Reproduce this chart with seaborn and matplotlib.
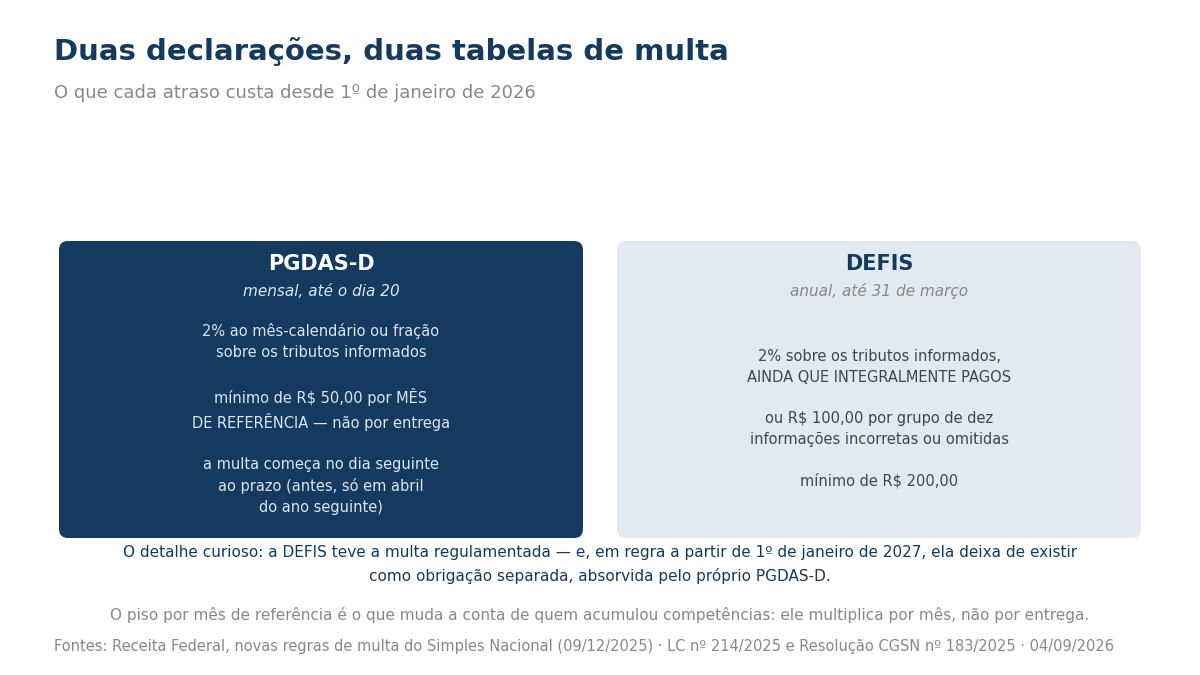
import matplotlib
matplotlib.use("Agg")
import matplotlib.pyplot as plt
from matplotlib.patches import FancyBboxPatch
import seaborn as sns

# card content
card_titles = ["PGDAS-D", "DEFIS"]
card_subtitles = ["mensal, até o dia 20", "anual, até 31 de março"]
card_bodies = [
    "2% ao mês-calendário ou fração\nsobre os tributos informados\n\n"
    "mínimo de R$ 50,00 por MÊS\nDE REFERÊNCIA — não por entrega\n\n"
    "a multa começa no dia seguinte\nao prazo (antes, só em abril\ndo ano seguinte)",
    "2% sobre os tributos informados,\nAINDA QUE INTEGRALMENTE PAGOS\n\n"
    "ou R$ 100,00 por grupo de dez\ninformações incorretas ou omitidas\n\n"
    "mínimo de R$ 200,00",
]

title = "Duas declarações, duas tabelas de multa"
subtitle = "O que cada atraso custa desde 1º de janeiro de 2026"
note = ("O detalhe curioso: a DEFIS teve a multa regulamentada — e, em regra a partir de 1º de janeiro de 2027, "
        "ela deixa de existir\ncomo obrigação separada, absorvida pelo próprio PGDAS-D.")
takeaway = ("O piso por mês de referência é o que muda a conta de quem acumulou competências: "
            "ele multiplica por mês, não por entrega.")
source = ("Fontes: Receita Federal, novas regras de multa do Simples Nacional (09/12/2025) · "
          "LC nº 214/2025 e Resolução CGSN nº 183/2025 · 04/09/2026")

NAVY = "#143a5f"
LIGHT = "#e2e9f1"
GRAY = "#888888"

sns.set_theme(style="white")
plt.rcParams["font.family"] = ["DejaVu Sans"]

fig = plt.figure(figsize=(12, 6.75), dpi=100)
fig.patch.set_facecolor("white")

# cards drawn in a pixel-scaled axes
W, H = 1200, 675
card_w, card_h, gap = 524, 297, 34
left, bottom = 59, 675 - 538
total_w = 2 * card_w + gap
ax = fig.add_axes([left / W, bottom / H, total_w / W, card_h / H])
ax.set_xlim(0, total_w)
ax.set_ylim(0, card_h)
ax.axis("off")

fills = [NAVY, LIGHT]
title_colors = ["white", NAVY]
sub_colors = ["#dde6f0", GRAY]
body_colors = ["#dce5ee", "#3f4650"]

for i, (t, s, b) in enumerate(zip(card_titles, card_subtitles, card_bodies)):
    x0 = i * (card_w + gap)
    ax.add_patch(FancyBboxPatch((x0, 0), card_w, card_h,
                                boxstyle="round,pad=0,rounding_size=9",
                                fc=fills[i], ec="none", clip_on=False))
    cx = x0 + card_w / 2
    ax.text(cx, card_h - 23, t, ha="center", va="center", fontsize=15,
            fontweight="bold", color=title_colors[i])
    ax.text(cx, card_h - 50, s, ha="center", va="center", fontsize=11,
            style="italic", color=sub_colors[i])
    ax.text(cx, card_h - 178, b, ha="center", va="center", fontsize=10.5,
            color=body_colors[i], linespacing=1.47, multialignment="center")

fig.text(54 / W, 1 - 51 / H, title, ha="left", va="center", fontsize=21,
         fontweight="bold", color=NAVY)
fig.text(54 / W, 1 - 93 / H, subtitle, ha="left", va="center", fontsize=13, color=GRAY)
fig.text(0.5, 1 - 564.5 / H, note, ha="center", va="center", fontsize=11,
         color=NAVY, linespacing=1.6, multialignment="center")
fig.text(0.5, 1 - 615 / H, takeaway, ha="center", va="center", fontsize=11, color=GRAY)
fig.text(54 / W, 1 - 646 / H, source, ha="left", va="center", fontsize=10.5, color=GRAY)

fig.savefig("out.png", dpi=100, facecolor="white")
